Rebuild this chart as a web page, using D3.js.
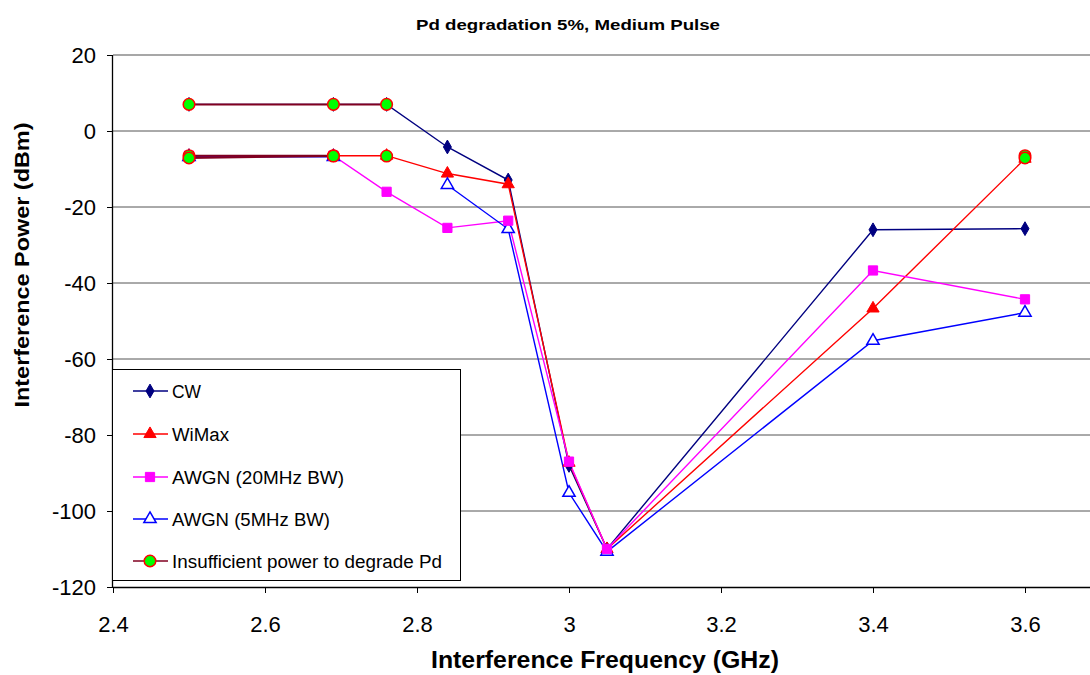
<!DOCTYPE html>
<html><head><meta charset="utf-8">
<script src="https://cdn.jsdelivr.net/npm/d3@7"></script>
<style>body{margin:0;background:#fff}svg{display:block;font-family:Arial,"Liberation Sans",sans-serif}</style>
</head><body><svg id="c" width="1090" height="675"></svg>
<script>
const freqs = [2.5, 2.69, 2.76, 2.84, 2.92, 3.0, 3.05, 3.4, 3.6];
const cw      = [7, 7, 7, -4.2, -12.9, -88, -110, -26, -25.7];
const wimax   = [-6.5, -6.5, -6.5, -11.2, -14, -87.3, -110, -46.7, -7.3];
const awgn20  = [-6.5, -6.5, -16, -25.5, -23.6, -87, -110, -36.7, -44.3];
const awgn5   = [-6.8, -6.8, null, -14.2, -25.8, -95.2, -110.7, -55.2, -47.8];
const insuffA = [7, 7, 7, null, null, null, null, null, null];
const insuffB = [-6.5, -6.5, null, null, null, null, null, null, null];
const insuffC = [-7.1, -6.6, null, null, null, null, null, null, null];
const insuffD = [null, null, -6.6, null, null, null, null, null, -6.5];
const insuffE = [null, null, null, null, null, null, null, null, -7.1];
const xTicks = [2.4, 2.6, 2.8, 3.0, 3.2, 3.4, 3.6];
const xTickLabels = ["2.4", "2.6", "2.8", "3", "3.2", "3.4", "3.6"];
const yTicks = [20, 0, -20, -40, -60, -80, -100, -120];
const yTickLabels = ["20", "0", "-20", "-40", "-60", "-80", "-100", "-120"];
const legendLabels = ["CW", "WiMax", "AWGN (20MHz BW)", "AWGN (5MHz BW)", "Insufficient power to degrade Pd"];
const titleText = "Pd degradation 5%, Medium Pulse";
const xTitle = "Interference Frequency (GHz)";
const yTitle = "Interference Power (dBm)";

const svg = d3.select("#c");
const x = d3.scaleLinear().domain([2.4, 3.6]).range([113, 1025]);
const y = d3.scaleLinear().domain([-120, 20]).range([587, 55]);
const plotRight = 1090;
const FONT = "Arial, Liberation Sans, sans-serif";

// gridlines
svg.append("g").selectAll("line").data(yTicks.filter(v => v !== -120)).join("line")
  .attr("x1", x(2.4)).attr("x2", plotRight).attr("y1", d => y(d)).attr("y2", d => y(d))
  .attr("stroke", d => d === 20 ? "#8a8a8a" : "#555").attr("stroke-width", d => d === 20 ? 1.6 : 1);

// axes
const yAxis = d3.axisLeft(y).tickValues(yTicks).tickSize(6).tickPadding(11)
  .tickFormat((d, i) => yTickLabels[i]);
const gy = svg.append("g").attr("transform", `translate(${x(2.4)},0)`).call(yAxis);
gy.select(".domain").attr("stroke", "#000").attr("stroke-width", 1.3).attr("d", `M-0.5,${y(20)}V${y(-120)}`);
gy.selectAll(".tick line").attr("stroke", "#000");
gy.selectAll(".tick text").attr("font-size", 22).attr("fill", "#000").attr("font-family", FONT);

const xAxis = d3.axisBottom(x).tickValues(xTicks).tickSize(6).tickPadding(23)
  .tickFormat((d, i) => xTickLabels[i]);
const gx = svg.append("g").attr("transform", `translate(0,${y(-120)})`).call(xAxis);
gx.select(".domain").attr("stroke", "#000").attr("stroke-width", 1.3).attr("d", `M${x(2.4)},0.5H${plotRight}`);
gx.selectAll(".tick line").attr("stroke", "#000");
gx.selectAll(".tick text").attr("font-size", 22).attr("fill", "#000").attr("font-family", FONT);

// series
const line = d3.line().defined(d => d[1] !== null).x(d => x(d[0])).y(d => y(d[1]));
const pts = arr => freqs.map((f, i) => [f, arr[i]]);

const sym = {
  diamond: d3.symbol().type(d3.symbolDiamond).size(55),
  triangle: d3.symbol().type(d3.symbolTriangle).size(65),
  square: d3.symbol().type(d3.symbolSquare).size(85),
  circle: d3.symbol().type(d3.symbolCircle).size(105)
};
const series = [
  {data: cw, color: "#000080", width: 1.4, marker: "diamond", fill: "#000080", mstroke: "#000080"},
  {data: wimax, color: "#ff0000", width: 1.4, marker: "triangle", fill: "#ff0000", mstroke: "#ff0000"},
  {data: awgn20, color: "#ff00ff", width: 1.4, marker: "square", fill: "#ff00ff", mstroke: "#ff00ff"},
  {data: awgn5, color: "#0000ff", width: 1.4, marker: "triangle", fill: "#ffffff", mstroke: "#0000ff"}
];
const markerOrder = [0, 1, 3, 2];
const insSeries = [insuffA, insuffB, insuffC, insuffD, insuffE];

function drawMarker(g, type, cx, cy, fill, stroke, sw) {
  g.append("path").attr("d", sym[type]()).attr("transform", `translate(${cx},${cy})`)
    .attr("fill", fill).attr("stroke", stroke).attr("stroke-width", sw);
}

const gs = svg.append("g");
series.forEach(s => {
  gs.append("path").datum(pts(s.data)).attr("d", line).attr("fill", "none")
    .attr("stroke", s.color).attr("stroke-width", s.width);
});
markerOrder.map(i => series[i]).forEach(s => {
  pts(s.data).filter(d => d[1] !== null).forEach(d =>
    drawMarker(gs, s.marker, x(d[0]), y(d[1]), s.fill, s.mstroke, s.marker === "triangle" && s.fill === "#ffffff" ? 1.5 : 1));
});
insSeries.forEach(a => {
  gs.append("path").datum(pts(a)).attr("d", line).attr("fill", "none")
    .attr("stroke", "#800020").attr("stroke-width", 2);
});
insSeries.forEach(a => {
  pts(a).filter(d => d[1] !== null).forEach(d =>
    drawMarker(gs, "circle", x(d[0]), y(d[1]), "#00ff00", "#ff0000", 1.5));
});

// legend
const lg = svg.append("g");
lg.append("rect").attr("x", 112.5).attr("y", 369.5).attr("width", 348).attr("height", 211)
  .attr("fill", "#fff").attr("stroke", "#000").attr("stroke-width", 1);
const legendItems = [
  {color: "#000080", marker: "diamond", fill: "#000080", stroke: "#000080"},
  {color: "#ff0000", marker: "triangle", fill: "#ff0000", stroke: "#ff0000"},
  {color: "#ff00ff", marker: "square", fill: "#ff00ff", stroke: "#ff00ff"},
  {color: "#0000ff", marker: "triangle", fill: "#ffffff", stroke: "#0000ff"},
  {color: "#800020", marker: "circle", fill: "#00ff00", stroke: "#ff0000"}
];
const legendY = [391, 434, 477, 519, 561];
const legendW = [29, 57, 172, 158, 270];
legendItems.forEach((it, i) => {
  const ly = legendY[i];
  lg.append("line").attr("x1", 133).attr("x2", 168).attr("y1", ly).attr("y2", ly)
    .attr("stroke", it.color).attr("stroke-width", 1.4);
  drawMarker(lg, it.marker, 150, ly, it.fill, it.stroke, it.marker === "circle" || it.fill === "#ffffff" ? 1.5 : 1);
  lg.append("text").attr("x", 172).attr("y", ly + 7).attr("font-size", 18).attr("fill", "#000")
    .attr("textLength", legendW[i]).attr("lengthAdjust", "spacingAndGlyphs").text(legendLabels[i]);
});

// titles
svg.append("text").attr("x", 568).attr("y", 30).attr("text-anchor", "middle")
  .attr("font-size", 14.5).attr("font-weight", "bold").attr("textLength", 304).attr("lengthAdjust", "spacingAndGlyphs").text(titleText);
svg.append("text").attr("x", 605).attr("y", 668).attr("text-anchor", "middle")
  .attr("font-size", 23).attr("font-weight", "bold").attr("textLength", 348).attr("lengthAdjust", "spacingAndGlyphs").text(xTitle);
svg.append("text").attr("transform", "translate(29,265) rotate(-90)").attr("text-anchor", "middle")
  .attr("font-size", 21).attr("font-weight", "bold").attr("textLength", 285).attr("lengthAdjust", "spacingAndGlyphs").text(yTitle);
</script></body></html>
